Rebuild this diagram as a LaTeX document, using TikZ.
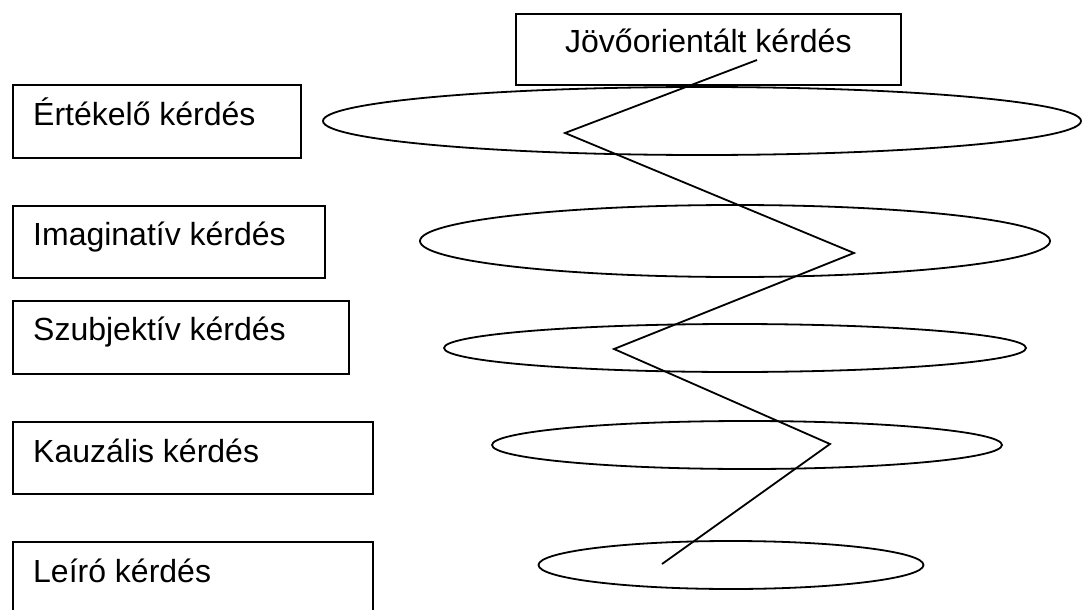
\documentclass[tikz,border=0pt]{standalone}
\usepackage{fontspec}
\setmainfont{Liberation Sans}
\usetikzlibrary{shapes.geometric}
\begin{document}
\begin{tikzpicture}[x=1pt,y=-1pt,
  box/.style={draw=black,line width=1.8pt,rectangle,inner sep=0pt,anchor=north west},
  lbl/.style={inner sep=0pt,anchor=base west,font=\fontsize{32}{38}\selectfont},
  ring/.style={draw=black,line width=1.8pt,ellipse,inner sep=0pt},
  zig/.style={draw=black,line width=1.8pt,line join=miter}]
\useasboundingbox (0,0) rectangle (1082,610);
% left boxes
\node[box,minimum width=288pt,minimum height=73pt] (b1) at (12,84) {};
\node[lbl] (t1) at (33,125) {Értékelő kérdés};
\node[box,minimum width=312pt,minimum height=72pt] (b2) at (12,205) {};
\node[lbl] (t2) at (33,245) {Imaginatív kérdés};
\node[box,minimum width=336pt,minimum height=73pt] (b3) at (12,300) {};
\node[lbl] (t3) at (33,340) {Szubjektív kérdés};
\node[box,minimum width=360pt,minimum height=72pt] (b4) at (12,421) {};
\node[lbl] (t4) at (33,462) {Kauzális kérdés};
\node[box,minimum width=360pt,minimum height=75pt] (b5) at (12,541) {};
\node[lbl] (t5) at (33,582) {Leíró kérdés};
% top box
\node[box,minimum width=385pt,minimum height=71pt] (b0) at (515,13) {};
\node[lbl] (t0) at (565,53) {Jövőorientált kérdés};
% ellipses
\node[ring,minimum width=758pt,minimum height=68pt] (e1) at (702,121) {};
\node[ring,minimum width=630pt,minimum height=72pt] (e2) at (735,241) {};
\node[ring,minimum width=582pt,minimum height=48pt] (e3) at (735,348) {};
\node[ring,minimum width=510pt,minimum height=48pt] (e4) at (747,445) {};
\node[ring,minimum width=385pt,minimum height=48pt] (e5) at (731,565) {};
% zigzag
\coordinate (z0) at (757,60);
\coordinate (z1) at (565,133);
\coordinate (z2) at (854,253);
\coordinate (z3) at (614,349);
\coordinate (z4) at (830,444);
\coordinate (z5) at (662,564);
\draw[zig] (z0) -- (z1) -- (z2) -- (z3) -- (z4) -- (z5);
\end{tikzpicture}
\end{document}
